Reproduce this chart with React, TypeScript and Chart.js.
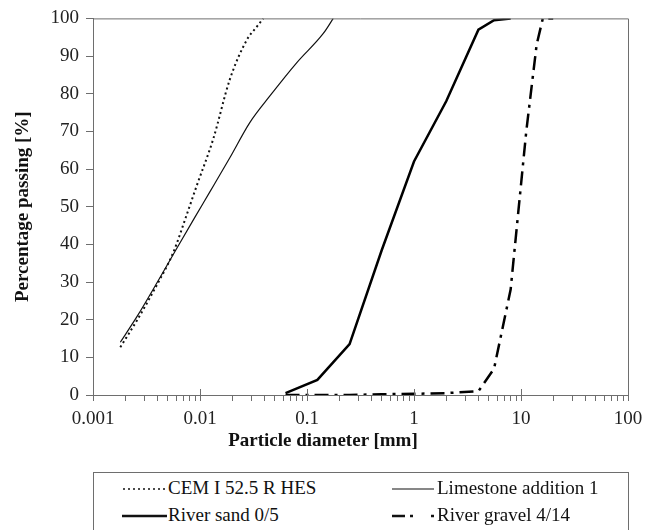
import React, { useEffect, useRef } from 'react';
import { Chart, registerables } from 'chart.js';

Chart.register(...registerables);

// ---- Data ----
const cemX = [0.0018, 0.0026, 0.004, 0.0056, 0.0075, 0.0093, 0.0133, 0.019, 0.0274, 0.034, 0.039];
const cemY = [12.7, 20, 29.5, 37.7, 47.8, 55.5, 68, 83.8, 94.3, 97.8, 100];

const limeX = [0.0018, 0.0026, 0.004, 0.006, 0.009, 0.0124, 0.019, 0.0293, 0.045, 0.08, 0.142, 0.176];
const limeY = [14, 21, 30, 38.7, 47.3, 54, 63, 72.4, 79.4, 88.2, 96, 100];

const sandX = [0.063, 0.125, 0.25, 0.5, 1, 2, 4, 5.6, 8];
const sandY = [0.5, 4, 13.5, 38.5, 62, 78, 97, 99.5, 100];

const gravelX = [0.063, 0.125, 0.25, 0.5, 1, 2, 4, 5.6, 8, 11.2, 14, 16, 20];
const gravelY = [0, 0, 0, 0.2, 0.3, 0.5, 1, 7, 28, 70, 93, 100, 100];

const seriesNames = ['CEM I 52.5 R HES', 'Limestone addition 1', 'River sand 0/5', 'River gravel 4/14'];

const xMajorTicks = [0.001, 0.01, 0.1, 1, 10, 100];
const xMajorLabels = ['0.001', '0.01', '0.1', '1', '10', '100'];
const xMinorSignificands = [2, 3, 4, 5, 6, 7, 8, 9];
const yTickStep = 10;

const xTitle = 'Particle diameter [mm]';
const yTitle = 'Percentage passing [%]';

// ---- Styles ----
const FONT = '"Liberation Serif", "Times New Roman", serif';
const AXIS = '#6e6e6e';
const INK = '#111';
const W = 658;
const CH = 460;

const pts = (xs: number[], ys: number[]) => xs.map((x, i) => ({ x, y: ys[i] }));

const allXTicks: number[] = (() => {
  const out: number[] = [];
  xMajorTicks.forEach((m, i) => {
    out.push(m);
    if (i < xMajorTicks.length - 1) {
      xMinorSignificands.forEach((s) => out.push(Number((s * m).toPrecision(6))));
    }
  });
  return out.sort((a, b) => a - b);
})();

const majorLabel = (v: number) => {
  const i = xMajorTicks.findIndex((m) => Math.abs(m - v) / m < 1e-6);
  return i >= 0 ? xMajorLabels[i] : '';
};

const framePlugin = {
  id: 'frame',
  afterDraw(chart: any) {
    const { ctx, chartArea } = chart;
    const { left, right, top, bottom } = chartArea;
    ctx.save();
    ctx.strokeStyle = AXIS;
    ctx.lineWidth = 1;
    ctx.beginPath();
    ctx.moveTo(left, top + 0.5);
    ctx.lineTo(right + 0.5, top + 0.5);
    ctx.lineTo(right + 0.5, bottom);
    const xs = chart.scales.x;
    xMajorTicks.forEach((v) => {
      const px = Math.round(xs.getPixelForValue(v)) + 0.5;
      ctx.moveTo(px, bottom);
      ctx.lineTo(px, bottom - 6);
    });
    ctx.stroke();
    ctx.restore();
  },
};

function ChartCanvas() {
  const ref = useRef<HTMLCanvasElement | null>(null);
  useEffect(() => {
    if (!ref.current) return;
    const chart = new Chart(ref.current, {
      type: 'line',
      data: {
        datasets: [
          {
            label: seriesNames[0],
            data: pts(cemX, cemY),
            borderColor: '#111',
            borderWidth: 2,
            borderDash: [2, 3],
            pointRadius: 0,
            cubicInterpolationMode: 'monotone',
            fill: false,
          },
          {
            label: seriesNames[1],
            data: pts(limeX, limeY),
            borderColor: '#111',
            borderWidth: 1.2,
            pointRadius: 0,
            cubicInterpolationMode: 'monotone',
            fill: false,
          },
          {
            label: seriesNames[2],
            data: pts(sandX, sandY),
            borderColor: '#000',
            borderWidth: 2.5,
            pointRadius: 0,
            tension: 0,
            fill: false,
          },
          {
            label: seriesNames[3],
            data: pts(gravelX, gravelY),
            borderColor: '#000',
            borderWidth: 2.5,
            borderDash: [14, 6, 3, 6],
            pointRadius: 0,
            tension: 0,
            fill: false,
          },
        ],
      },
      options: {
        animation: false,
        responsive: false,
        layout: { padding: { left: 0, right: 30, top: 15, bottom: 0 } },
        plugins: { legend: { display: false }, tooltip: { enabled: false } },
        scales: {
          x: {
            type: 'logarithmic',
            min: 0.001,
            max: 100,
            position: 'bottom',
            afterBuildTicks: (axis: any) => {
              axis.ticks = allXTicks.map((v) => ({ value: v }));
            },
            afterFit: (s: any) => {
              s.height = CH - 395;
            },
            ticks: {
              autoSkip: false,
              maxRotation: 0,
              padding: 7,
              color: '#222',
              font: { family: FONT, size: 19 },
              callback: (v: any) => majorLabel(Number(v)),
            },
            grid: { drawOnChartArea: false, tickLength: 6, color: AXIS },
            border: { color: AXIS, width: 1 },
            title: { display: false },
          },
          y: {
            type: 'linear',
            min: 0,
            max: 100,
            afterFit: (s: any) => {
              s.width = 93;
            },
            ticks: {
              stepSize: yTickStep,
              padding: 7,
              color: '#222',
              font: { family: FONT, size: 19 },
            },
            grid: { drawOnChartArea: false, tickLength: 7, color: AXIS },
            border: { color: AXIS, width: 1 },
            title: {
              display: true,
              text: yTitle,
              color: INK,
              font: { family: FONT, size: 19, weight: 'bold' },
              padding: { top: 12, bottom: 0 },
            },
          },
        },
      },
      plugins: [framePlugin],
    } as any);
    return () => chart.destroy();
  }, []);
  return <canvas ref={ref} width={W} height={CH} style={{ width: W, height: CH, display: 'block' }} />;
}

const legendText: React.CSSProperties = {
  position: 'absolute',
  fontFamily: FONT,
  fontSize: 19,
  lineHeight: '22px',
  color: INK,
  whiteSpace: 'nowrap',
};

function LegendSample({ left, top, width, dash, stroke }: { left: number; top: number; width: number; dash?: string; stroke: number }) {
  return (
    <svg style={{ position: 'absolute', left, top: top - 5 }} width={width} height={10}>
      <line x1={0} y1={5} x2={width} y2={5} stroke="#111" strokeWidth={stroke} strokeDasharray={dash} />
    </svg>
  );
}

export default function App() {
  const row1 = 489;
  const row2 = 516;
  return (
    <div style={{ position: 'absolute', left: 0, top: 0, width: W, height: 530, overflow: 'hidden', background: '#fff' }}>
      <div style={{ position: 'absolute', left: 0, top: 0 }}>
        <ChartCanvas />
      </div>
      <div
        style={{
          ...legendText,
          left: 223,
          width: 200,
          top: 429,
          textAlign: 'center',
          fontWeight: 'bold',
        }}
      >
        {xTitle}
      </div>
      <div
        style={{
          position: 'absolute',
          left: 93,
          top: 472,
          width: 536,
          height: 70,
          border: `1px solid ${AXIS}`,
          boxSizing: 'border-box',
        }}
      />
      <LegendSample left={123} top={row1} width={42} dash="2 3" stroke={1.6} />
      <div style={{ ...legendText, left: 168, top: row1 - 12 }}>{seriesNames[0]}</div>
      <LegendSample left={392} top={row1} width={42} stroke={1.2} />
      <div style={{ ...legendText, left: 437, top: row1 - 12 }}>{seriesNames[1]}</div>
      <LegendSample left={122} top={row2} width={45} stroke={2.5} />
      <div style={{ ...legendText, left: 168, top: row2 - 12 }}>{seriesNames[2]}</div>
      <LegendSample left={392} top={row2} width={42} dash="13 5 3 18" stroke={2.5} />
      <div style={{ ...legendText, left: 437, top: row2 - 12 }}>{seriesNames[3]}</div>
    </div>
  );
}
